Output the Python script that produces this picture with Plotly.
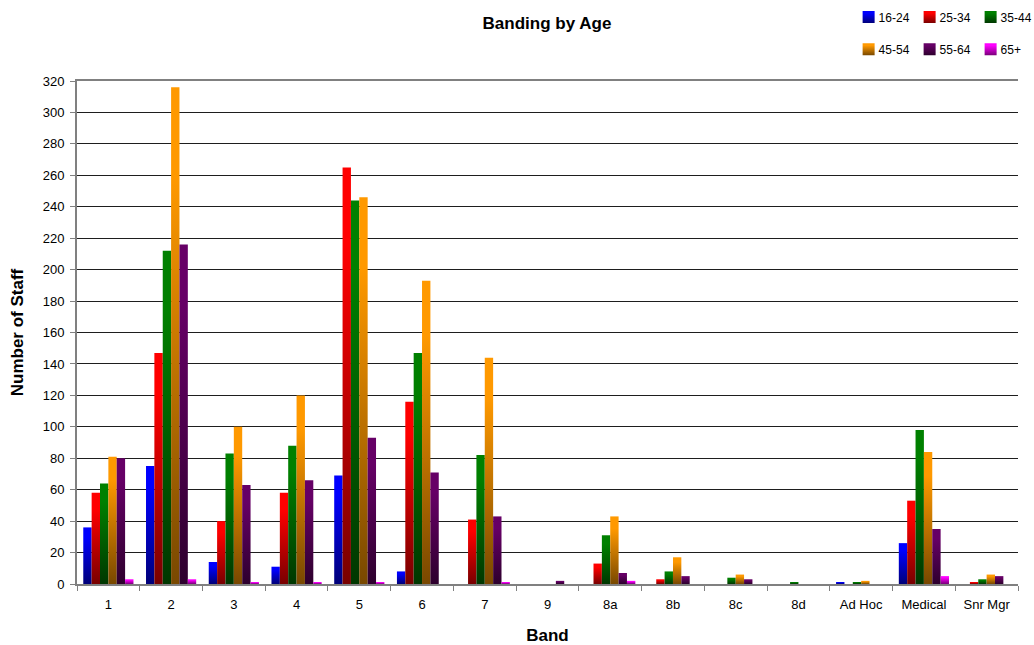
import plotly.graph_objects as go

bands = ["1", "2", "3", "4", "5", "6", "7", "9", "8a", "8b", "8c", "8d",
         "Ad Hoc", "Medical", "Snr Mgr"]

age_16_24 = [36, 75, 14, 11, 69, 8, 0, 0, 0, 0, 0, 0, 1, 26, 0]
age_25_34 = [58, 147, 40, 58, 265, 116, 41, 0, 13, 3, 0, 0, 0, 53, 1]
age_35_44 = [64, 212, 83, 88, 244, 147, 82, 0, 31, 8, 4, 1, 1, 98, 3]
age_45_54 = [81, 316, 100, 120, 246, 193, 144, 0, 43, 17, 6, 0, 2, 84, 6]
age_55_64 = [80, 216, 63, 66, 93, 71, 43, 2, 7, 5, 3, 0, 0, 35, 5]
age_65_up = [3, 3, 1, 1, 1, 0, 1, 0, 2, 0, 0, 0, 0, 5, 0]

series = [
    ("16-24", age_16_24, (0, 0, 255), (0, 0, 120), "legend"),
    ("25-34", age_25_34, (255, 0, 0), (120, 0, 0), "legend"),
    ("35-44", age_35_44, (0, 128, 0), (0, 55, 0), "legend"),
    ("45-54", age_45_54, (255, 153, 0), (120, 72, 0), "legend2"),
    ("55-64", age_55_64, (102, 0, 102), (45, 0, 45), "legend2"),
    ("65+", age_65_up, (255, 0, 255), (120, 0, 120), "legend2"),
]

FONT = "Liberation Sans, Arial, sans-serif"

fig = go.Figure()
for name, vals, top, bottom, leg in series:
    fig.add_trace(go.Bar(
        name=name, x=bands, y=vals,
        marker=dict(color="rgb(%d,%d,%d)" % top, line=dict(width=0)),
        legend=leg,
        hovertemplate="%{x}: %{y}<extra>" + name + "</extra>",
    ))

legend_common = dict(
    orientation="h", xanchor="left", yanchor="middle",
    font=dict(family=FONT, size=12, color="#000"),
    bgcolor="rgba(0,0,0,0)", entrywidth=16, entrywidthmode="pixels",
    itemwidth=30, tracegroupgap=0,
)

fig.update_layout(
    width=1034, height=645,
    margin=dict(l=76.5, r=16, t=80.7, b=61.3, autoexpand=False),
    paper_bgcolor="white", plot_bgcolor="white",
    barmode="group", bargap=0.2, bargroupgap=0,
    font=dict(family=FONT, size=13, color="#000"),
    title=dict(text="<b>Banding by Age</b>", x=0.529, xanchor="center",
               y=0.965, yanchor="middle",
               font=dict(family=FONT, size=17, color="#000")),
    legend=dict(x=0.82, y=1.127, **legend_common),
    legend2=dict(x=0.82, y=1.063, **legend_common),
    xaxis=dict(
        type="category", showgrid=False, tickson="boundaries",
        ticks="outside", ticklen=5, tickcolor="#808080", tickwidth=1,
        showline=True, linecolor="#808080", linewidth=2, mirror=True,
        tickangle=0, ticklabelstandoff=7,
        tickfont=dict(family=FONT, size=13, color="#000"),
        title=dict(text="<b>Band</b>", standoff=19,
                   font=dict(family=FONT, size=17, color="#000")),
        automargin=False,
    ),
    yaxis=dict(
        range=[0, 320], dtick=20, tick0=0,
        showgrid=True, gridcolor="#1e1e1e", gridwidth=1.3,
        ticks="outside", ticklen=5, tickcolor="#808080", tickwidth=1,
        showline=True, linecolor="#808080", linewidth=2,
        zeroline=False, ticklabelstandoff=3,
        tickfont=dict(family=FONT, size=13, color="#000"),
        title=dict(text="<b>Number of Staff</b>", standoff=15,
                   font=dict(family=FONT, size=17, color="#000")),
        automargin=False,
    ),
)

# Vertical shading on each bar and legend swatch: full colour at the top,
# darkening toward the base. Legend labels sit close to their swatches.
grad_js_items = ",".join(
    "['rgb(%d, %d, %d)','rgb(%d,%d,%d)','rgb(%d,%d,%d)']" % (top + top + bottom)
    for _, _, top, bottom, _ in series
)

post_script = """
(function(){
  var gd = document.getElementById('{plot_id}');
  var specs = [%s];
  var css = document.createElement('style');
  css.textContent = 'text.legendtext, text.legend2text { transform: translateX(-10px); }';
  document.head.appendChild(css);
  function apply(){
    var svg = gd.querySelector('svg.main-svg');
    if(!svg) return;
    var defs = svg.querySelector('defs#bargrads');
    if(!defs){
      defs = document.createElementNS('http://www.w3.org/2000/svg','defs');
      defs.setAttribute('id','bargrads');
      svg.insertBefore(defs, svg.firstChild);
      specs.forEach(function(s, i){
        var g = document.createElementNS('http://www.w3.org/2000/svg','linearGradient');
        g.setAttribute('id','bargrad'+i);
        g.setAttribute('x1','0'); g.setAttribute('y1','0');
        g.setAttribute('x2','0'); g.setAttribute('y2','1');
        [[0, s[1]], [0.18, s[1]], [1, s[2]]].forEach(function(st){
          var e = document.createElementNS('http://www.w3.org/2000/svg','stop');
          e.setAttribute('offset', st[0]);
          e.setAttribute('stop-color', st[1]);
          g.appendChild(e);
        });
        defs.appendChild(g);
      });
    }
    var paths = gd.querySelectorAll('.trace.bars path, .legendpoints path, .legend2points path, g.infolayer path');
    paths.forEach(function(p){
      var f = (p.style.fill || '').replace(/\\s+/g,'');
      specs.forEach(function(s, i){
        if(f === s[0].replace(/\\s+/g,'')){
          p.style.fill = 'url(#bargrad' + i + ')';
        }
      });
    });
  }
  apply();
  setTimeout(apply, 50);
  setTimeout(apply, 300);
  if(gd.on) gd.on('plotly_afterplot', apply);
})();
""" % grad_js_items

fig.write_html("out.html", post_script=post_script)
